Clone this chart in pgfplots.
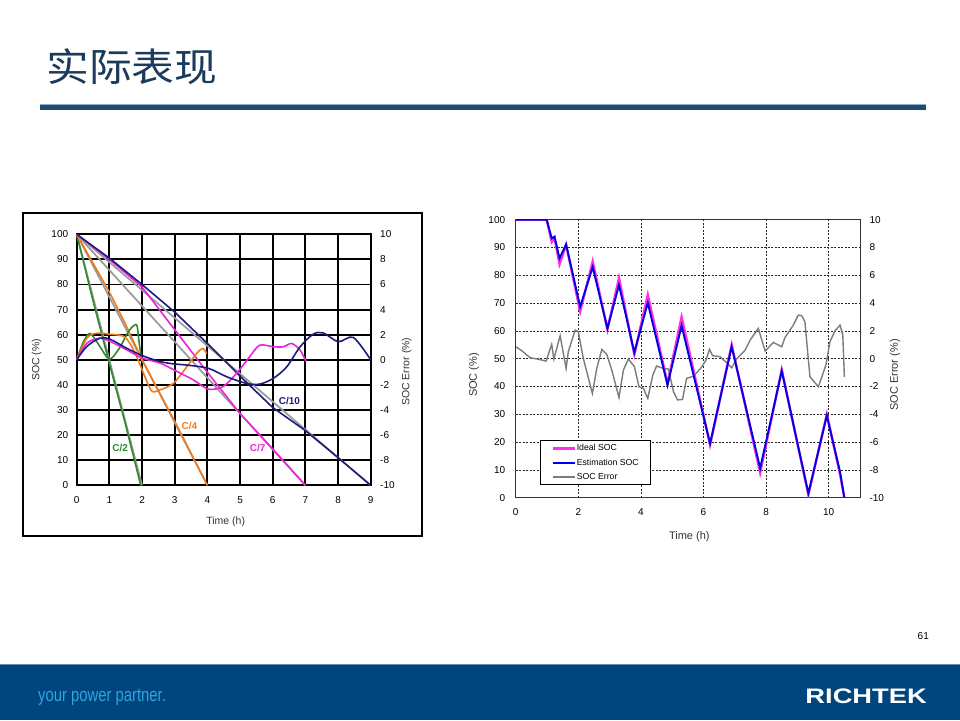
\documentclass[border=0pt]{standalone}
\usepackage{fontspec}
\setmainfont{Liberation Sans}
\newfontfamily\cjk{Noto Sans CJK SC}
\usepackage{graphicx}
\usepackage{pgfplots}
\pgfplotsset{compat=1.18}
\definecolor{titleblue}{HTML}{1B3A5C}
\definecolor{tline}{HTML}{1F4A72}
\definecolor{tlinelight}{HTML}{8DB0D0}
\definecolor{footblue}{HTML}{00457E}
\definecolor{footcyan}{HTML}{2AA6E0}
\definecolor{cgreen}{HTML}{2E8B2E}
\definecolor{corange}{HTML}{F07A1E}
\definecolor{cmag}{HTML}{EE22DD}
\definecolor{cnavy}{HTML}{1C1C80}
\definecolor{cgray}{HTML}{9A9A9A}
\definecolor{rmag}{HTML}{FF30E0}
\definecolor{rblue}{HTML}{0000E6}
\definecolor{rgray}{HTML}{7C7C7C}
\definecolor{labgray}{HTML}{333333}
\pgfplotsset{
  every tick label/.append style={font=\fontsize{10}{12}\selectfont},
  /pgf/number format/assume math mode=true,
}
\begin{document}
\begin{tikzpicture}
\path[fill=white] (0pt,0pt) rectangle (960pt,720pt);
\path[use as bounding box] (0pt,0pt) rectangle (960pt,720pt);
% ---------- title ----------
\node[anchor=west, inner sep=0pt, text=titleblue] at (46pt,653pt) {\scalebox{1.07}[0.97]{\cjk\fontsize{40}{44}\selectfont 实际表现}};
\fill[tlinelight] (40pt,614.5pt) rectangle (926pt,615.5pt);
\fill[tline] (40pt,610pt) rectangle (926pt,614.5pt);
% ---------- footer ----------
\fill[footblue] (0pt,0pt) rectangle (960pt,56pt);
\fill[tlinelight!70!footblue] (0pt,55pt) rectangle (960pt,56.5pt);
\node[anchor=west, inner sep=0pt, text=footcyan] at (38pt,23pt) {\scalebox{0.78}[1]{\fontsize{19}{22}\selectfont your power partner.}};
\node[anchor=east, inner sep=0pt, text=white] at (927pt,24pt) {\scalebox{1.3}[1]{\bfseries\fontsize{21}{24}\selectfont RICHTEK}};
\node[anchor=east, inner sep=0pt] at (929pt,84pt) {\fontsize{10}{12}\selectfont 61};
% ---------- left chart frame ----------
\draw[black, line width=1.5pt] (23pt,507pt) rectangle (422pt,184pt);
% ---------- left chart: SOC ----------
\begin{axis}[
  at={(76.7pt,234.7pt)}, anchor=south west, scale only axis,
  width=294pt, height=251pt,
  xmin=0, xmax=9, ymin=0, ymax=100,
  xtick={0,1,...,9}, ytick={0,10,...,100},
  ytick pos=left, xtick pos=bottom,
  grid=major, major grid style={black, line width=1.9pt},
  axis line style={black, line width=1.9pt},
  major tick length=0pt,
  xticklabel style={yshift=-8pt},
  yticklabel style={xshift=-5pt},
]
\addplot[cgray, line width=1.7pt] coordinates {(0,100) (2,0)};
\addplot[cgray, line width=1.7pt] coordinates {(0,100) (4,0)};
\addplot[cgray, line width=1.7pt] coordinates {(0,100) (7,0)};
\addplot[cgray, line width=1.7pt] coordinates {(0,100) (9,0)};
\addplot[cgreen, line width=1.6pt] coordinates {(0,100) (0.5,73.5) (1,48.5) (1.5,24) (1.96,0)};
\addplot[corange, line width=1.6pt] coordinates {(0,100) (1,77) (1.5,64) (2,50) (3,25.5) (4,0)};
\addplot[cmag, line width=1.6pt] coordinates {(0,100) (1,90) (2,79) (3,62) (4,45) (5,28.6) (6,14.5) (7,0)};
\addplot[cnavy, line width=1.6pt] coordinates {(0,100) (1,90.5) (2,80) (3,69) (4,56.5) (5,43.5) (6,31) (7,21.8) (8,11) (9,0)};
\node[text=cgreen, font=\bfseries\fontsize{10}{12}\selectfont] at (axis cs:1.33,14.7) {C/2};
\node[text=corange, font=\bfseries\fontsize{10}{12}\selectfont] at (axis cs:3.45,23.6) {C/4};
\node[text=cmag, font=\bfseries\fontsize{10}{12}\selectfont] at (axis cs:5.54,14.7) {C/7};
\node[text=cnavy, font=\bfseries\fontsize{10}{12}\selectfont] at (axis cs:6.51,33.7) {C/10};
\end{axis}
% ---------- left chart: error ----------
\begin{axis}[
  at={(76.7pt,234.7pt)}, anchor=south west, scale only axis,
  width=294pt, height=251pt,
  xmin=0, xmax=9, ymin=-10, ymax=10,
  ytick={-10,-8,...,10},
  axis x line=none, axis y line*=right,
  axis line style={black, line width=1.9pt},
  major tick length=0pt,
  yticklabel style={xshift=6pt},
]
\addplot[cgreen, line width=1.6pt, smooth, tension=0.5] coordinates {(0,0) (0.2,1.4) (0.41,2.1) (0.7,1.1) (1.0,0.05) (1.3,0.9) (1.6,2.3) (1.83,2.8) (1.9,1.6) (1.97,0.3)};
\addplot[corange, line width=1.6pt, smooth, tension=0.5] coordinates {(0,0) (0.31,1.72) (0.61,2.12) (1.02,2.04) (1.43,1.88) (1.63,1.3) (1.84,0.24) (2.09,-1.36) (2.3,-2.5) (2.55,-2.4) (2.96,-1.88) (3.37,-0.56) (3.67,0.5) (3.86,0.9) (3.98,0.5)};
\addplot[cmag, line width=1.6pt, smooth, tension=0.5] coordinates {(0,0) (0.31,1.32) (0.71,1.72) (1.02,1.46) (1.53,0.8) (2,0.14) (2.55,-0.26) (3.06,-0.92) (3.57,-1.6) (4.03,-2.34) (4.49,-2.12) (4.9,-1.06) (5.3,0.26) (5.6,1.16) (6.02,1.04) (6.33,1.04) (6.58,1.3) (6.84,0.76) (7.02,-0.14)};
\addplot[cnavy, line width=1.6pt, smooth, tension=0.5] coordinates {(0,0) (0.31,1.06) (0.71,1.72) (1.02,1.64) (1.53,0.92) (2,0.34) (2.55,-0.14) (3.01,-0.34) (3.37,-0.42) (4.03,-0.68) (4.6,-1.36) (5.2,-1.88) (5.6,-1.94) (6.02,-1.48) (6.43,-0.56) (6.84,1.04) (7.24,2.04) (7.55,2.14) (8.01,1.44) (8.47,1.78) (9,0)};
\end{axis}
\node[rotate=90, text=labgray, font=\fontsize{10.5}{12}\selectfont] at (36.7pt,360pt) {SOC (\%)};
\node[rotate=90, text=labgray, font=\fontsize{10.5}{12}\selectfont] at (406.7pt,348.3pt) {SOC Error (\%)};
\node[text=labgray, font=\fontsize{10.5}{12}\selectfont] at (225.7pt,198.3pt) {Time (h)};
% ---------- right chart: error (behind) ----------
\begin{axis}[
  at={(515.7pt,222.3pt)}, anchor=south west, scale only axis,
  width=344.3pt, height=278pt,
  xmin=0, xmax=11, ymin=-10, ymax=10,
  xtick={0,2,...,10}, ytick={-10,-8,...,10},
  ytick pos=right, xticklabels={},
  grid=major, major grid style={black!85, line width=0.7pt, dash pattern=on 2pt off 1.5pt},
  axis line style={black!80, line width=0.8pt},
  major tick length=0pt,
  yticklabel style={xshift=6pt},
]
\addplot[rgray, line width=1.4pt] coordinates {
(0,0.86) (0.19,0.58) (0.46,0.07) (0.72,-0.04) (0.97,-0.17) (1.15,1.03) (1.22,-0.02) (1.42,1.65) (1.61,-0.7) (1.68,0.5) (1.9,2.06) (2.0,1.94) (2.16,0.02) (2.45,-2.5) (2.59,-0.7) (2.75,0.67) (2.91,0.31) (3.07,-0.82) (3.3,-2.8) (3.44,-0.82) (3.6,-0.02) (3.79,-0.57) (3.94,-2.02) (4.08,-2.13) (4.22,-2.86) (4.38,-1.18) (4.5,-0.53) (4.72,-0.7) (4.88,-0.75) (5.04,-2.37) (5.17,-2.97) (5.33,-2.93) (5.46,-1.42) (5.68,-1.25) (5.91,-0.7) (6.08,-0.1) (6.19,0.67) (6.29,0.22) (6.53,0.14) (6.74,-0.29) (6.9,-0.65) (7.06,-0.02) (7.33,0.62) (7.49,1.34) (7.75,2.18) (7.97,0.55) (8.23,1.17) (8.5,0.86) (8.6,1.51) (8.87,2.42) (9.03,3.14) (9.14,3.09) (9.24,2.66) (9.4,-1.3) (9.67,-2.02) (9.91,-0.46) (10.04,1.22) (10.2,2.0) (10.36,2.42) (10.45,1.7) (10.5,-1.3)};
\end{axis}
% ---------- right chart: SOC ----------
\begin{axis}[
  at={(515.7pt,222.3pt)}, anchor=south west, scale only axis,
  width=344.3pt, height=278pt,
  xmin=0, xmax=11, ymin=0, ymax=100,
  xtick={0,2,...,10}, ytick={0,10,...,100},
  ytick pos=left, xtick pos=bottom,
  axis line style={black!80, line width=0.8pt},
  major tick length=0pt,
  xticklabel style={yshift=-7pt},
  yticklabel style={xshift=-7pt},
  legend style={at={(0.0706,0.2065)}, anchor=north west, draw=black, line width=0.8pt,
    font=\fontsize{8.7}{10}\selectfont, fill=white, inner xsep=11pt, inner ysep=3pt,
    row sep=4.5pt, nodes={inner sep=1pt}},
  legend cell align=left,
  legend image code/.code={\draw[#1] (0pt,0pt) -- (22pt,0pt);},
]
\addplot[rmag, line width=2.4pt] coordinates {(0,100) (0.99,100) (1.15,92) (1.24,93.5) (1.4,84) (1.61,91) (2.06,67) (2.46,85) (2.93,60.5) (3.3,79) (3.79,51.5) (4.22,73) (4.85,41) (5.3,65) (6.21,19) (6.9,55) (7.81,9) (8.5,46) (9.35,1) (9.94,30) (10.36,8.5) (10.5,0)};
\addlegendentry{Ideal SOC}
\addplot[rblue, line width=1.9pt] coordinates {(0,100) (0.99,100) (1.15,93.3) (1.24,93.9) (1.4,86.1) (1.61,91.1) (2.06,68.7) (2.46,83) (2.93,60.9) (3.3,76.5) (3.79,52.2) (4.22,70.1) (4.85,40.5) (5.3,61.9) (6.21,19.5) (6.9,54.3) (7.81,10.6) (8.5,45.6) (9.35,1.6) (9.94,29.5) (10.36,9.4) (10.5,0)};
\addlegendentry{Estimation SOC}
\addlegendimage{rgray, line width=1.4pt}
\addlegendentry{SOC Error}
\end{axis}
\node[rotate=90, text=labgray, font=\fontsize{11}{13}\selectfont] at (474pt,345pt) {SOC (\%)};
\node[rotate=90, text=labgray, font=\fontsize{11}{13}\selectfont] at (895pt,345pt) {SOC Error (\%)};
\node[text=labgray, font=\fontsize{11}{13}\selectfont] at (689.3pt,183.3pt) {Time (h)};
\end{tikzpicture}
\end{document}
